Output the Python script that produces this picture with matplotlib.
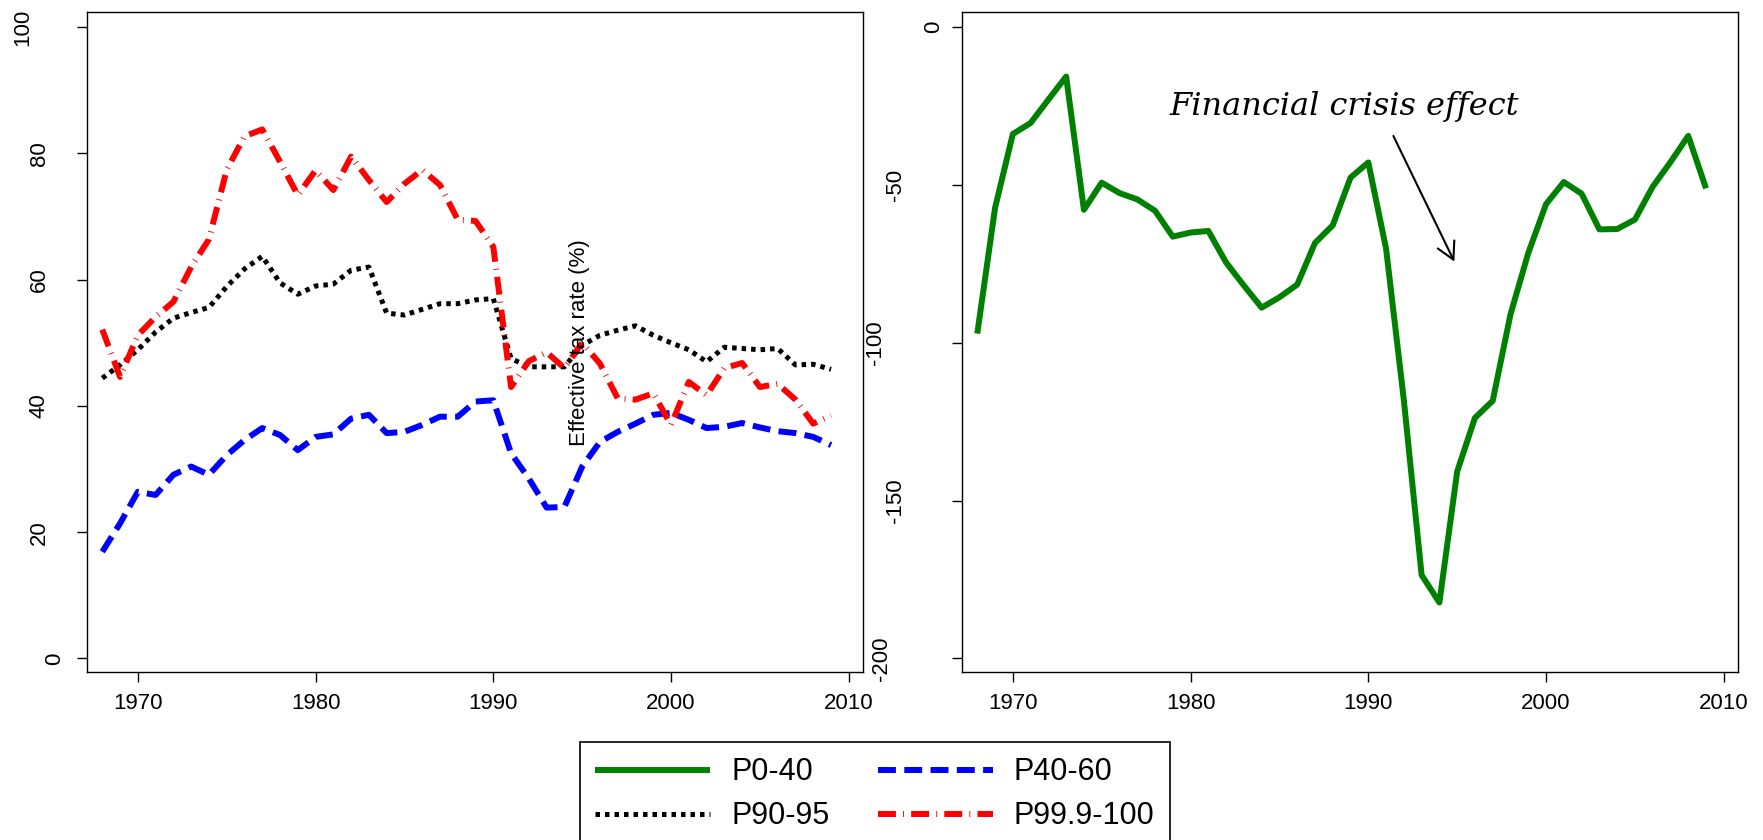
import matplotlib
matplotlib.use("Agg")
import matplotlib.pyplot as plt
from matplotlib.lines import Line2D

plt.rcParams['font.family'] = ['Liberation Sans', 'DejaVu Sans']

years = list(range(1968, 2010))

# effective tax rates (%) by income group
p0_40 = [-97.1, -57.3, -33.9, -30.4, -23.0, -15.7, -57.9, -49.3, -52.6, -54.6,
         -58.2, -66.4, -65.1, -64.6, -74.6, -81.9, -88.9, -85.6, -81.6, -68.4,
         -62.8, -47.7, -42.9, -70.2, -118.2, -173.6, -182.3, -140.8, -123.8, -118.4,
         -91.0, -71.6, -56.1, -49.1, -52.8, -64.1, -64.0, -61.0, -50.6, -42.8,
         -34.5, -51.1]
p40_60 = [16.9, 21.4, 26.4, 25.9, 29.1, 30.4, 29.1, 32.2, 34.6, 36.5,
          35.4, 33.0, 35.1, 35.5, 38.0, 38.6, 35.7, 35.9, 37.0, 38.3,
          38.3, 40.7, 40.9, 32.5, 28.5, 23.9, 24.0, 30.4, 34.3, 35.9,
          37.2, 38.6, 38.9, 37.8, 36.5, 36.7, 37.3, 36.6, 36.0, 35.7,
          35.1, 33.8]
p90_95 = [44.4, 46.5, 48.9, 51.7, 53.9, 54.8, 55.6, 58.9, 61.7, 63.7,
          59.5, 57.7, 59.0, 59.3, 61.5, 62.0, 54.7, 54.4, 55.3, 56.2,
          56.2, 56.8, 57.0, 47.5, 46.2, 46.2, 46.2, 49.6, 51.2, 52.0,
          52.7, 51.2, 50.0, 48.9, 47.0, 49.3, 49.1, 48.9, 49.1, 46.5,
          46.6, 45.8]
p999_100 = [52.1, 44.6, 51.2, 54.1, 56.5, 62.0, 66.4, 77.4, 82.7, 83.8,
            78.7, 73.4, 77.3, 74.2, 79.5, 75.8, 72.3, 75.2, 77.4, 75.0,
            69.5, 69.3, 65.2, 43.0, 47.1, 48.5, 46.0, 50.0, 46.7, 41.2,
            41.0, 42.0, 37.0, 43.8, 41.7, 46.0, 46.8, 43.0, 43.5, 41.0,
            37.2, 38.5]

labels = ['P0-40', 'P40-60', 'P90-95', 'P99.9-100']
xticks = [1970, 1980, 1990, 2000, 2010]
left_yticks = [0, 20, 40, 60, 80, 100]
right_yticks = [0, -50, -100, -150, -200]

# horizontal centre (figure px) of each rotated y tick label
left_label_x = [55, 39, 39, 39, 39, 23]
right_label_x = [934, 896, 876, 896, 881]

green = dict(color='#008000', lw=4.3, solid_capstyle='butt')
blue = dict(color='#0000ff', lw=4.3, dashes=(3.0, 1.4))
black = dict(color='black', lw=3.6, dashes=(0.9, 1.0))
red = dict(color='#ff0000', lw=4.3, dashes=(3.0, 1.2, 0.15, 1.2))

fig = plt.figure(figsize=(17.63, 8.4), dpi=100)
W, H = 1763.0, 840.0
ax1 = fig.add_axes([87 / W, 168 / H, 776 / W, 660 / H])
ax2 = fig.add_axes([962 / W, 168 / H, 776 / W, 660 / H])

ax1.plot(years, p40_60, **blue)
ax1.plot(years, p90_95, **black)
ax1.plot(years, p999_100, **red)
ax2.plot(years, p0_40, **green)

ax1.set_ylim(-2.14, 102.4)
ax2.set_ylim(-204.3, 4.75)

for ax, ticks, xs, x0 in ((ax1, left_yticks, left_label_x, 87),
                          (ax2, right_yticks, right_label_x, 962)):
    ax.set_xlim(1967.14, 2010.8)
    ax.set_xticks(xticks)
    ax.set_yticks(ticks, labels=[''] * len(ticks))
    for s in ax.spines.values():
        s.set_linewidth(1.0)
    ax.tick_params(axis='x', length=7, width=1.0, pad=8, labelsize=16)
    ax.tick_params(axis='y', length=7, width=1.0)
    for v, px in zip(ticks, xs):
        ax.text((px - x0) / 776, v, str(v), rotation=90, fontsize=16,
                ha='center', va='center', transform=ax.get_yaxis_transform(),
                clip_on=False)

fig.text(580 / W, 1 - 343 / H, 'Effective tax rate (%)', rotation=90,
         ha='center', va='center', fontsize=16)

ax2.text(1978.8, -27.8, 'Financial crisis effect', fontsize=23,
         family=['DejaVu Serif'], style='italic',
         ha='left', va='baseline')
ax2.annotate('', xy=(1994.84, -74.3), xytext=(1991.41, -34.5),
             arrowprops=dict(arrowstyle='->,head_length=0.55,head_width=0.3',
                             lw=1.5, color='black', mutation_scale=22,
                             shrinkA=0, shrinkB=0))

handles = [Line2D([], [], **green), Line2D([], [], **blue),
           Line2D([], [], **black), Line2D([], [], **red)]
leg = fig.legend([handles[0], handles[2], handles[1], handles[3]],
                 [labels[0], labels[2], labels[1], labels[3]],
                 ncol=2, loc='upper left', bbox_to_anchor=(580 / W, 1 - 742 / H),
                 borderaxespad=0, fontsize=22, handlelength=3.76,
                 handletextpad=0.69, columnspacing=1.58, borderpad=0.5,
                 labelspacing=0.46, fancybox=False, framealpha=1,
                 edgecolor='black')
leg.get_frame().set_linewidth(1.2)

fig.savefig('out.png', dpi=100)
